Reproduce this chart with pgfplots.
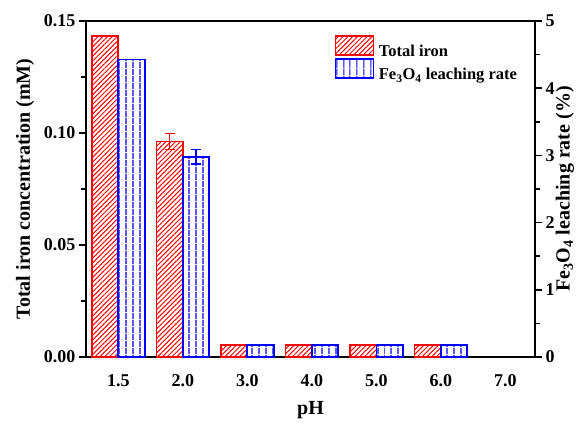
\documentclass[border=0pt]{standalone}
\usepackage{pgfplots}
\pgfplotsset{compat=1.18}
\usepackage{fontspec}
\setmainfont{Liberation Serif}
\usetikzlibrary{patterns.meta}

\pgfplotsset{
  common/.style={
    scale only axis,
    width=449pt, height=336pt,
    xmin=-0.5, xmax=6.46,
    ybar, bar width=0.41,
    axis line style={line width=2pt},
    tick style={line width=1.6pt, black},
    tick align=outside,
    major tick length=7pt, minor tick length=4.5pt,
    ticklabel style={font=\fontsize{18}{20}\selectfont\bfseries},
    label style={font=\fontsize{20}{22}\selectfont\bfseries},
    /pgf/number format/assume math mode=true,
  },
}

\begin{document}
\begin{tikzpicture}
\useasboundingbox (-86pt,-66pt) rectangle (499pt,357pt);
% left axis: total iron (mM)
\begin{axis}[
    common,
    ymin=0, ymax=0.15,
    ytick={0,0.05,0.10,0.15},
    minor y tick num=1,
    ytick pos=left,
    yticklabel style={/pgf/number format/fixed, /pgf/number format/precision=2, /pgf/number format/fixed zerofill},
    scaled y ticks=false,
    xtick={0,1,2,3,4,5,6},
    xticklabels={1.5,2.0,3.0,4.0,5.0,6.0,7.0},
    xtick style={draw=none},
    xticklabel style={anchor=center, yshift=-17pt},
    xlabel={pH},
    xlabel style={at={([yshift=-53pt]rel axis cs:0.5,0)}, anchor=center},
    ylabel={Total iron concentration (mM)},
    ylabel style={at={([xshift=-61pt]rel axis cs:0,0.5)}, anchor=center, rotate=0},
]
\addplot[
    bar shift=-0.205,
    draw=red, line width=1.6pt,
    pattern={Lines[angle=45,distance=3.4pt,line width=1pt]}, pattern color=red,
    error bars/.cd, y dir=both, y explicit,
    error bar style={red, line width=1.4pt}, error mark options={rotate=90, mark size=5pt, line width=1.4pt, red},
    ]
    coordinates {
    (0,0.1434) +- (0,0)
    (1,0.0962) +- (0,0.0035)
    (2,0.0054) +- (0,0)
    (3,0.0054) +- (0,0)
    (4,0.0054) +- (0,0)
    (5,0.0054) +- (0,0)
    };
\end{axis}
% right axis: Fe3O4 leaching rate (%)
\begin{axis}[
    common,
    ymin=0, ymax=5,
    ytick={0,1,2,3,4,5},
    minor y tick num=1,
    axis y line*=right,
    axis x line=none,
    ylabel={Fe\textsubscript{3}O\textsubscript{4} leaching rate (\%)},
    ylabel style={at={([xshift=30pt]rel axis cs:1,0.5)}, anchor=center, rotate=0},
    legend style={draw=none, fill=none, at={([xshift=-4.5pt]rel axis cs:0.557,0.964)}, anchor=north west,
      font=\fontsize{16.5}{19}\selectfont\bfseries, row sep=0pt,
      nodes={inner xsep=4.5pt, inner ysep=0.5pt}},
    legend cell align=left,
    legend image code/.code={
      \draw[#1] (0pt,-3.5pt) rectangle (38pt,15.5pt);
    },
]
\addlegendimage{draw=red, line width=1.4pt, pattern={Lines[angle=45,distance=3.4pt,line width=1pt]}, pattern color=red}
\addlegendentry{Total iron}
\addplot[
    bar shift=0.205,
    draw=blue, line width=1.6pt,
    pattern={Lines[angle=90,distance=6.5pt,line width=1.2pt]}, pattern color=blue,
    error bars/.cd, y dir=both, y explicit,
    error bar style={blue, line width=1.4pt}, error mark options={rotate=90, mark size=5pt, line width=1.4pt, blue},
    ]
    coordinates {
    (0,4.43) +- (0,0)
    (1,2.98) +- (0,0.11)
    (2,0.18) +- (0,0)
    (3,0.18) +- (0,0)
    (4,0.18) +- (0,0)
    (5,0.18) +- (0,0)
    };
\addlegendimage{draw=black, line width=1.4pt, pattern={Lines[angle=90,distance=6.5pt,line width=1.2pt]}, pattern color=blue}
\addlegendentry{Fe\textsubscript{3}O\textsubscript{4} leaching rate}
\end{axis}
\end{tikzpicture}
\end{document}
